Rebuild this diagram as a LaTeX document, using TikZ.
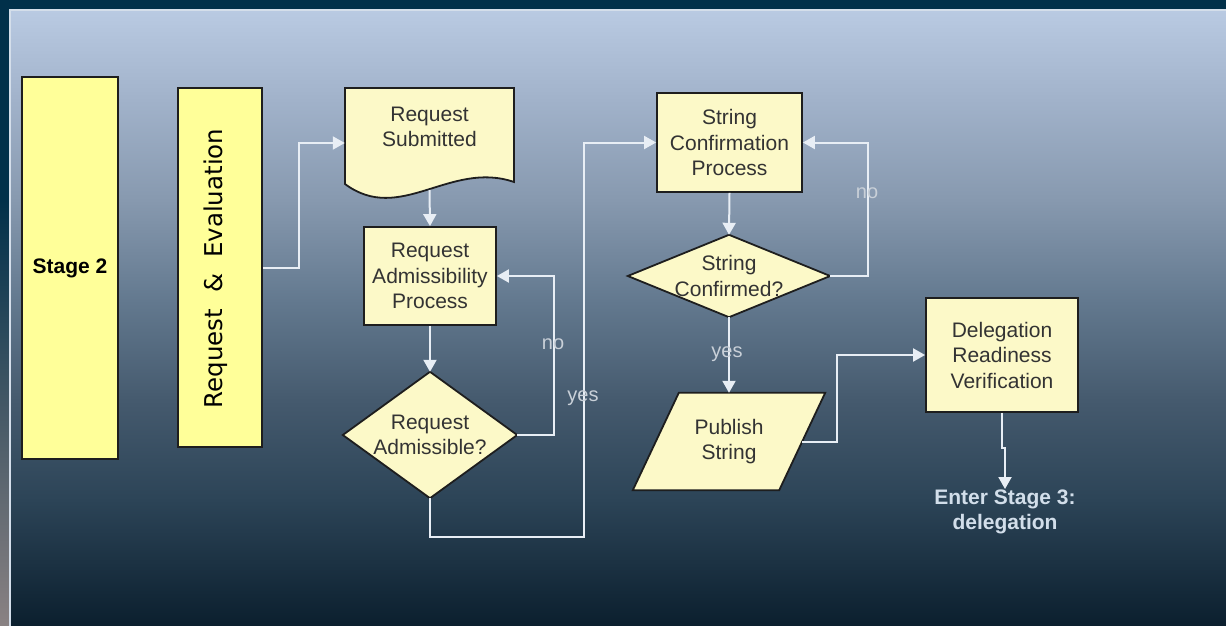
\documentclass[tikz,border=0pt]{standalone}
\usepackage{fontspec}
\setmainfont{Liberation Sans}
\newfontfamily\widefont{DejaVu Sans}
\usetikzlibrary{arrows.meta,calc}

\definecolor{navy}{HTML}{01304A}
\definecolor{stripgrey}{HTML}{8A8283}
\definecolor{rimline}{HTML}{D4DEEA}
\definecolor{bgA}{HTML}{B9CAE2}
\definecolor{bgB}{HTML}{A1B2CA}
\definecolor{bgC}{HTML}{8799AF}
\definecolor{bgD}{HTML}{63798F}
\definecolor{bgE}{HTML}{455A6E}
\definecolor{bgF}{HTML}{2C4457}
\definecolor{bgG}{HTML}{0B1F2E}
\definecolor{stagefill}{HTML}{FFFF99}
\definecolor{cream}{HTML}{FCF9C8}
\definecolor{edge}{HTML}{1E1E1E}
\definecolor{inktext}{HTML}{333333}
\definecolor{flowline}{HTML}{E8EEF5}
\definecolor{labelgrey}{HTML}{C9D0D8}
\definecolor{exittext}{HTML}{D2DEEA}

\pgfdeclarelayer{bg}
\pgfdeclarelayer{shapes}
\pgfsetlayers{bg,shapes,main}

\tikzset{
  stagebox/.style={rectangle, draw=edge, line width=1.8pt, fill=stagefill,
    inner sep=0pt, text=black},
  procbox/.style={rectangle, draw=edge, line width=1.8pt, fill=cream,
    inner sep=0pt, text=inktext, align=center,
    font=\fontsize{21}{25.5}\selectfont},
  shapebase/.style={rectangle, draw=none, inner sep=0pt, text=inktext,
    align=center, font=\fontsize{21}{25.5}\selectfont},
  outline/.style={draw=edge, line width=1.8pt, fill=cream, line join=miter},
  flow/.style={draw=flowline, line width=2pt,
    -{Triangle[length=12pt,width=13pt]}},
  answer/.style={text=labelgrey, inner sep=0pt,
    font=\fontsize{20}{24}\selectfont},
}

\begin{document}
\begin{tikzpicture}[x=1pt,y=-1pt]
\useasboundingbox (0,0) rectangle (1226,626);

% ---------- frame and graded panel ----------
\begin{pgfonlayer}{bg}
  \fill[navy] (0,0) rectangle (1226,626);
  \shade[top color=navy,bottom color=stripgrey] (0,200) rectangle (9,626);
  \shade[top color=bgA,bottom color=bgB] (11,11)    rectangle (1226,100.5);
  \shade[top color=bgB,bottom color=bgC] (11,100)   rectangle (1226,200.5);
  \shade[top color=bgC,bottom color=bgD] (11,200)   rectangle (1226,300.5);
  \shade[top color=bgD,bottom color=bgE] (11,300)   rectangle (1226,400.5);
  \shade[top color=bgE,bottom color=bgF] (11,400)   rectangle (1226,500.5);
  \shade[top color=bgF,bottom color=bgG] (11,500)   rectangle (1226,626);
  \fill[rimline] (9,9) rectangle (1226,11);
  \fill[rimline] (9,9) rectangle (11,626);
\end{pgfonlayer}

% ---------- stage columns ----------
\node[stagebox, minimum width=96pt, minimum height=382pt,
      font=\bfseries\fontsize{21}{25}\selectfont] (stage) at (70,268) {Stage 2};
\node[stagebox, minimum width=84pt, minimum height=359pt] (phase) at (220,267.5) {};
\node[rotate=90, text=black, inner sep=0pt,
      font=\widefont\fontsize{24.5}{28}\selectfont] (phasetxt) at (216,268.5)
      {Request\hspace{16pt}\&\hspace{16pt}Evaluation};

% ---------- admissibility branch ----------
\node[shapebase, minimum width=169pt, minimum height=110pt] (sub) at (429.5,143) {};
\node[shapebase] (subtxt) at ($(sub.center)+(0,-16)$) {Request\\Submitted};
\coordinate (subwave) at ($(sub.center)+(0,47)$);

\node[procbox, minimum width=132pt, minimum height=98pt] (adm) at (430,276)
      {Request\\Admissibility\\Process};

\node[shapebase, minimum width=174pt, minimum height=126pt] (okreq) at (430,435)
      {Request\\Admissible?};

% ---------- string branch ----------
\node[procbox, minimum width=145pt, minimum height=99pt] (scp) at (729.5,142.5)
      {String\\Confirmation\\Process};

\node[shapebase, minimum width=202pt, minimum height=82pt] (okstr) at (729,276)
      {String\\Confirmed?};

\node[shapebase, minimum width=192pt, minimum height=97pt] (pub) at (729,441.5)
      {Publish\\String};

\node[procbox, minimum width=152pt, minimum height=114pt] (drv) at (1002,355)
      {Delegation\\Readiness\\Verification};

\node[anchor=north, inner sep=1pt, align=center, text=exittext,
      font=\bfseries\fontsize{21}{25}\selectfont] (exit) at (1005,489)
      {Enter Stage 3:\\delegation};

% ---------- outlines of the non-rectangular symbols ----------
\begin{pgfonlayer}{shapes}
  % document symbol with wavy foot
  \path[outline, shift={(sub.center)}]
    (-84.5,-55) -- (84.5,-55) -- (84.5,39)
    .. controls (20.5,17) and (-29.5,82) .. (-84.5,41) -- cycle;
  % decisions
  \path[outline] (okreq.north) -- (okreq.east) -- (okreq.south) -- (okreq.west) -- cycle;
  \path[outline] (okstr.north) -- (okstr.east) -- (okstr.south) -- (okstr.west) -- cycle;
  % data symbol
  \path[outline] ($(pub.north west)+(46,0)$) -- (pub.north east)
    -- ($(pub.south east)+(-46,0)$) -- (pub.south west) -- cycle;
\end{pgfonlayer}
\coordinate (pubside) at ($(pub.east)+(-23,0)$);

% ---------- connectors ----------
\draw[flow] (phase.east) -- ++(36,0) |- (sub.west);
\draw[flow] (subwave) -- (adm.north);
\draw[flow] (adm.south) -- (okreq.north);
\draw[flow] (okreq.east) -- ++(37,0) |- (adm.east);
\coordinate (yesturn) at ($(okreq.south)+(154,39)$);
\draw[flow] (okreq.south) |- (yesturn) |- (scp.west);
\draw[flow] (scp.south) -- (okstr.north);
\draw[flow] (okstr.east) -- ++(38,0) |- (scp.east);
\draw[flow] (okstr.south) -- (pub.north);
\draw[flow] (pubside) -- ++(35,0) |- (drv.west);
\draw[flow] (drv.south) -- ++(0,35) -| (exit.north);

% ---------- branch answers ----------
\node[answer] (no1)  at (553,344) {no};
\node[answer] (yes1) at (583,398) {yes};
\node[answer] (no2)  at (867,193) {no};
\node[answer] (yes2) at (727,354) {yes};
\end{tikzpicture}
\end{document}
